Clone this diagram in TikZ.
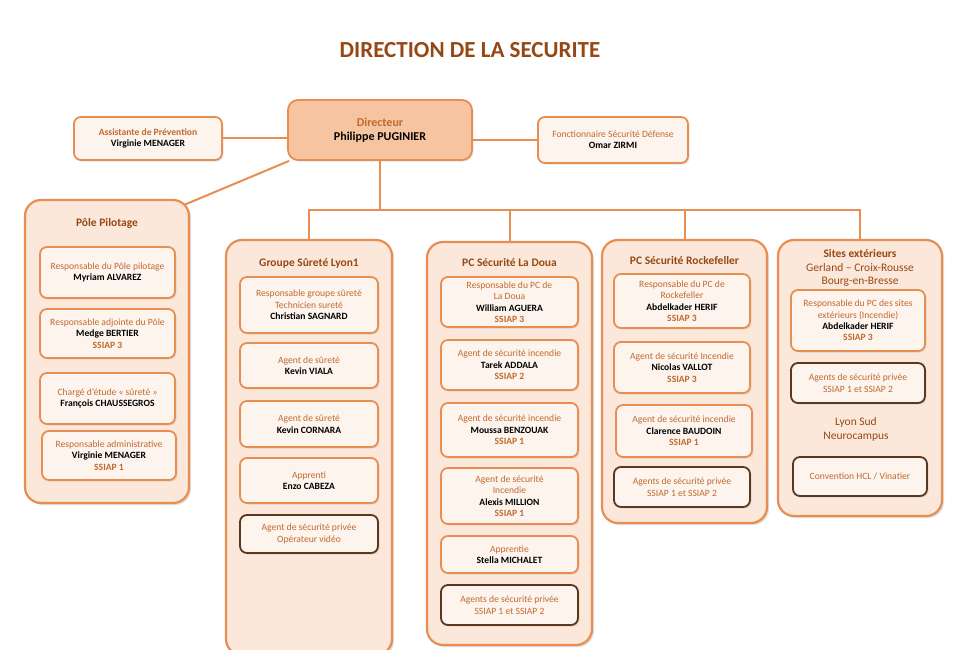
\documentclass[tikz,border=0pt]{standalone}
\usepackage{fontspec}
\setmainfont{Carlito}
\usetikzlibrary{shadows}
\definecolor{obord}{RGB}{232,142,82}
\definecolor{cfill}{RGB}{252,232,218}
\definecolor{ifill}{RGB}{253,244,237}
\definecolor{dfill}{RGB}{246,196,160}
\definecolor{otext}{RGB}{192,106,48}
\definecolor{ttext}{RGB}{150,72,20}
\definecolor{dbord}{RGB}{90,55,30}
\newcommand{\lb}[1]{{\color{otext}#1}}
\tikzset{
 cont/.style={draw=obord,line width=2.2pt,fill=cfill,rounded corners=16pt,drop shadow={opacity=0.25,shadow xshift=2pt,shadow yshift=-2pt}},
 inb/.style={draw=obord,line width=1.8pt,fill=ifill,rounded corners=7pt,align=center,font=\fontsize{9.6}{11.4}\selectfont,inner sep=1pt,drop shadow={opacity=0.2,shadow xshift=1.5pt,shadow yshift=-1.5pt}},
 dkb/.style={inb,draw=dbord},
 ctitle/.style={font=\bfseries\fontsize{11.5}{13.5}\selectfont,text=ttext,align=center},
 link/.style={draw=obord,line width=2pt}
}
\begin{document}
\begin{tikzpicture}[x=1pt,y=-1pt]
\useasboundingbox[fill=white] (0,0) rectangle (953,650);
\node[font=\bfseries\fontsize{23}{26}\selectfont,text=ttext] (title) at (470,50) {DIRECTION DE LA SECURITE};
% top row
\node[inb,fill=dfill,minimum width=184pt,minimum height=60pt,rounded corners=10pt,font=\fontsize{12}{14.5}\selectfont] (dir) at (380,130) {{\bfseries\lb{Directeur}}\\\bfseries Philippe PUGINIER};
\node[inb,minimum width=148pt,minimum height=43pt] (ass) at (148,138.5) {\bfseries\lb{Assistante de Prévention}\\\bfseries Virginie MENAGER};
\node[inb,minimum width=150pt,minimum height=46pt] (fon) at (613,140) {\lb{Fonctionnaire Sécurité Défense}\\\bfseries Omar ZIRMI};
% containers
\node[cont,minimum width=164pt,minimum height=303pt] (pole) at (107,351.5) {};
\node[cont,minimum width=166pt,minimum height=415pt] (grp) at (309,447.5) {};
\node[cont,minimum width=165pt,minimum height=403pt] (doua) at (509.5,443.5) {};
\node[cont,minimum width=165pt,minimum height=283pt] (rock) at (684.5,381.5) {};
\node[cont,minimum width=164pt,minimum height=276pt] (sites) at (860,378) {};
% connectors
\draw[link] (ass.east) -- (dir.west|-ass.east);
\draw[link] (fon.west) -- (dir.east|-fon.west);
\draw[link] ([xshift=2pt]dir.south west) -- ([xshift=-6pt,yshift=-6pt]pole.north east);
\coordinate (bus) at (380,210);
\draw[link] (dir.south) -- (bus);
\draw[link] (grp.north) |- (bus);
\draw[link] (doua.north) |- (bus);
\draw[link] (rock.north) |- (bus);
\draw[link] (sites.north) |- (bus);
% titles
\node[ctitle] (tp) at (107,223) {Pôle Pilotage};
\node[ctitle] (tg) at (309,263) {Groupe Sûreté Lyon1};
\node[ctitle] (td) at (509.5,263) {PC Sécurité La Doua};
\node[ctitle] (tr) at (684.5,261) {PC Sécurité Rockefeller};
\node[ctitle] (ts) at (860,268) {Sites extérieurs\\\mdseries Gerland – Croix-Rousse\\\mdseries Bourg-en-Bresse};
% pole
\node[inb,minimum width=135pt,minimum height=51pt] (p1) at (107.5,272.5) {\lb{Responsable du Pôle pilotage}\\\bfseries Myriam ALVAREZ};
\node[inb,minimum width=135pt,minimum height=49pt] (p2) at (107.5,333.5) {\lb{Responsable adjointe du Pôle}\\\bfseries Medge BERTIER\\\bfseries\lb{SSIAP 3}};
\node[inb,minimum width=135pt,minimum height=51pt] (p3) at (107.5,398.5) {\lb{Chargé d’étude « sûreté »}\\\bfseries François CHAUSSEGROS};
\node[inb,minimum width=134pt,minimum height=49pt] (p4) at (109,455.5) {\lb{Responsable administrative}\\\bfseries Virginie MENAGER\\\bfseries\lb{SSIAP 1}};
% groupe
\node[inb,minimum width=138pt,minimum height=56pt] (g1) at (309,305) {\lb{Responsable groupe sûreté}\\\lb{Technicien sureté}\\\bfseries Christian SAGNARD};
\node[inb,minimum width=138pt,minimum height=45pt] (g2) at (309,365.5) {\lb{Agent de sûreté}\\\bfseries Kevin VIALA};
\node[inb,minimum width=138pt,minimum height=46pt] (g3) at (309,424) {\lb{Agent de sûreté}\\\bfseries Kevin CORNARA};
\node[inb,minimum width=138pt,minimum height=45pt] (g4) at (309,480.5) {\lb{Apprenti}\\\bfseries Enzo CABEZA};
\node[dkb,minimum width=138pt,minimum height=38pt] (g5) at (309,534) {\lb{Agent de sécurité privée}\\\lb{Opérateur vidéo}};
% doua
\node[inb,minimum width=137pt,minimum height=50pt] (d1) at (509.5,302) {\lb{Responsable du PC de}\\\lb{La Doua}\\\bfseries William AGUERA\\\bfseries\lb{SSIAP 3}};
\node[inb,minimum width=137pt,minimum height=50pt] (d2) at (509.5,365) {\lb{Agent de sécurité incendie}\\\bfseries Tarek ADDALA\\\bfseries\lb{SSIAP 2}};
\node[inb,minimum width=137pt,minimum height=54pt] (d3) at (509.5,430) {\lb{Agent de sécurité incendie}\\\bfseries Moussa BENZOUAK\\\bfseries\lb{SSIAP 1}};
\node[inb,minimum width=137pt,minimum height=56pt] (d4) at (509.5,496) {\lb{Agent de sécurité}\\\lb{Incendie}\\\bfseries Alexis MILLION\\\bfseries\lb{SSIAP 1}};
\node[inb,minimum width=137pt,minimum height=37pt] (d5) at (509.5,554.5) {\lb{Apprentie}\\\bfseries Stella MICHALET};
\node[dkb,minimum width=137pt,minimum height=40pt] (d6) at (509.5,605) {\lb{Agents de sécurité privée}\\\lb{SSIAP 1 et SSIAP 2}};
% rock
\node[inb,minimum width=136pt,minimum height=54pt] (r1) at (682,301) {\lb{Responsable du PC de}\\\lb{Rockefeller}\\\bfseries Abdelkader HERIF\\\bfseries\lb{SSIAP 3}};
\node[inb,minimum width=136pt,minimum height=51pt] (r2) at (682,367.5) {\lb{Agent de sécurité Incendie}\\\bfseries Nicolas VALLOT\\\bfseries\lb{SSIAP 3}};
\node[inb,minimum width=136pt,minimum height=52pt] (r3) at (684,431) {\lb{Agent de sécurité incendie}\\\bfseries Clarence BAUDOIN\\\bfseries\lb{SSIAP 1}};
\node[dkb,minimum width=136pt,minimum height=40pt] (r4) at (682,487) {\lb{Agents de sécurité privée}\\\lb{SSIAP 1 et SSIAP 2}};
% sites
\node[inb,minimum width=134pt,minimum height=61pt] (s1) at (858,320.5) {\lb{Responsable du PC des sites}\\\lb{extérieurs (Incendie)}\\\bfseries Abdelkader HERIF\\\bfseries\lb{SSIAP 3}};
\node[dkb,minimum width=134pt,minimum height=40pt] (s2) at (858,383) {\lb{Agents de sécurité privée}\\\lb{SSIAP 1 et SSIAP 2}};
\node[font=\fontsize{11.5}{14}\selectfont,text=ttext,align=center] (ly) at (856,429) {Lyon Sud\\Neurocampus};
\node[dkb,minimum width=134pt,minimum height=39pt] (s3) at (860,476.5) {\lb{Convention HCL / Vinatier}};
\end{tikzpicture}
\end{document}
